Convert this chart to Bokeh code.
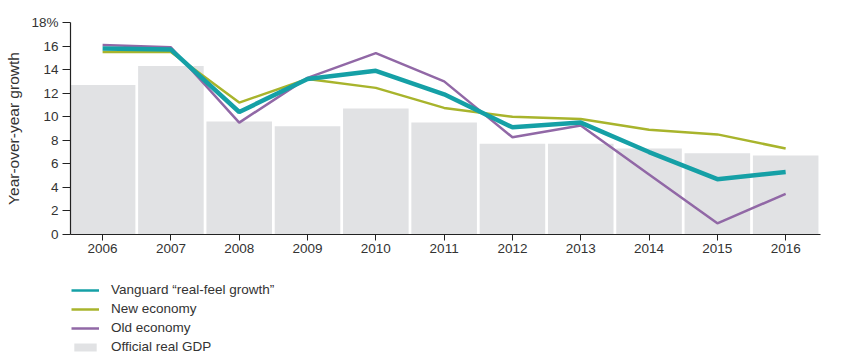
from bokeh.plotting import figure
from bokeh.layouts import column
from bokeh.models import Range1d, FixedTicker, Legend, LegendItem, ColumnDataSource
from bokeh.embed import file_html
from bokeh.resources import INLINE

years = [2006, 2007, 2008, 2009, 2010, 2011, 2012, 2013, 2014, 2015, 2016]
official_gdp = [12.7, 14.3, 9.6, 9.2, 10.7, 9.5, 7.7, 7.7, 7.3, 6.9, 6.7]
vanguard = [15.8, 15.7, 10.4, 13.2, 13.9, 11.9, 9.1, 9.5, 7.0, 4.7, 5.3]
new_economy = [15.5, 15.5, 11.2, 13.2, 12.45, 10.75, 10.0, 9.8, 8.9, 8.5, 7.3]
old_economy = [16.1, 15.9, 9.5, 13.3, 15.4, 13.0, 8.25, 9.25, 5.1, 0.95, 3.45]
y_ticks = [0, 2, 4, 6, 8, 10, 12, 14, 16, 18]
series_labels = ["Vanguard \u201creal-feel growth\u201d", "New economy", "Old economy", "Official real GDP"]

FONT = "Liberation Sans"
TXT = "#333333"
C_VAN, C_NEW, C_OLD, C_GDP = "#15a0a6", "#a8b42c", "#9168a6", "#e1e2e4"

p = figure(frame_width=750, frame_height=212, output_backend="svg", toolbar_location=None,
           x_range=Range1d(2005.53, 2016.51), y_range=Range1d(0, 18))
p.min_border_left = 70
p.min_border_right = 32
p.min_border_top = 22
p.min_border_bottom = 28
p.outline_line_color = None
p.grid.visible = False
p.background_fill_color = "white"
p.border_fill_color = "white"

src = ColumnDataSource(dict(x=years, gdp=official_gdp, v=vanguard, n=new_economy, o=old_economy))

p.vbar(x="x", top="gdp", width=0.96, source=src, fill_color=C_GDP, line_color=None)
p.line("x", "n", source=src, line_color=C_NEW, line_width=2.5)
p.line("x", "o", source=src, line_color=C_OLD, line_width=2.5)
p.line("x", "v", source=src, line_color=C_VAN, line_width=4.5)

p.xaxis.ticker = FixedTicker(ticks=years)
p.yaxis.ticker = FixedTicker(ticks=y_ticks)
p.yaxis.major_label_overrides = {18: "18%"}
for ax in (p.xaxis[0], p.yaxis[0]):
    ax.axis_line_color = "#222222"
    ax.axis_line_width = 1.2
    ax.major_tick_line_color = "#222222"
    ax.major_tick_in = 0
    ax.minor_tick_line_color = None
    ax.major_label_text_font = FONT
    ax.major_label_text_font_size = "13.5px"
    ax.major_label_text_color = TXT
p.xaxis.major_tick_out = 6
p.yaxis.major_tick_out = 8
p.yaxis.major_label_standoff = 4
p.xaxis.major_label_standoff = 3
p.yaxis.axis_label = "Year-over-year growth"
p.yaxis.axis_label_text_font = FONT
p.yaxis.axis_label_text_font_size = "15.5px"
p.yaxis.axis_label_text_font_style = "normal"
p.yaxis.axis_label_text_color = TXT
p.yaxis.axis_label_standoff = 6

# legend panel below the chart (placeholder renderers hold no visible data)
NAN = float("nan")
q = figure(width=852, height=93, output_backend="svg", toolbar_location=None,
           x_range=Range1d(0, 1), y_range=Range1d(0, 1),
           x_axis_location=None, y_axis_location=None)
q.min_border = 0
q.outline_line_color = None
q.grid.visible = False
lv = q.line(x=[NAN], y=[NAN], line_color=C_VAN, line_width=2.5)
ln = q.line(x=[NAN], y=[NAN], line_color=C_NEW, line_width=2.5)
lo = q.line(x=[NAN], y=[NAN], line_color=C_OLD, line_width=2.5)
lg = q.vbar(x=[NAN], top=[NAN], width=1, fill_color=C_GDP, line_color=None)

legend = Legend(items=[LegendItem(label=t, renderers=[r]) for t, r in zip(series_labels, [lv, ln, lo, lg])],
                location=(1, 1), orientation="vertical")
legend.border_line_color = None
legend.background_fill_alpha = 0
legend.label_text_font = FONT
legend.label_text_font_size = "13.5px"
legend.label_text_color = TXT
legend.glyph_width = 28
legend.glyph_height = 10
legend.label_height = 15
legend.spacing = 4
legend.padding = 0
legend.margin = 0
legend.label_standoff = 12
q.add_layout(legend, "center")

layout = column(p, q, spacing=0)
open("out.html", "w").write(file_html(layout, INLINE))
